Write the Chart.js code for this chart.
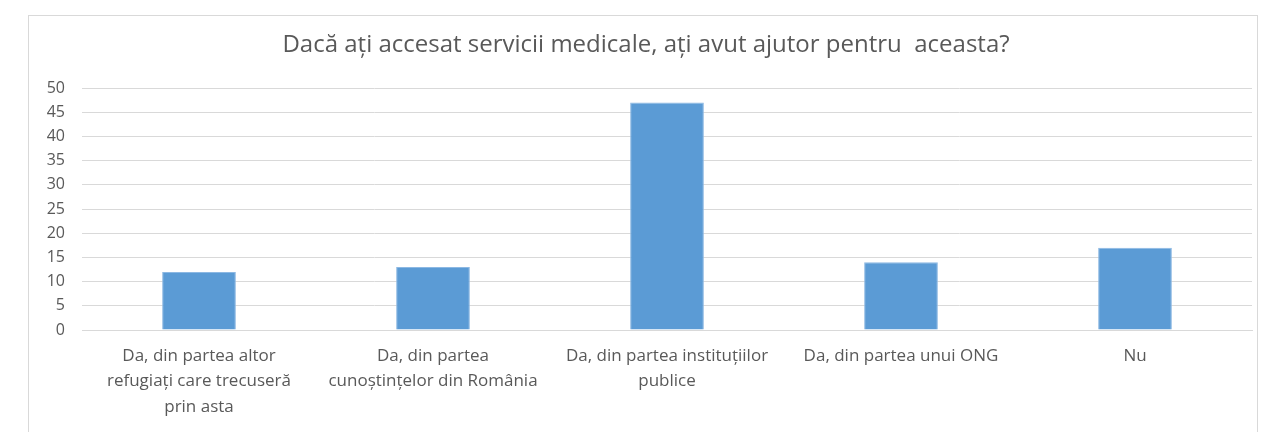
<!DOCTYPE html>
<html>
<head>
<meta charset="utf-8">
<script src="https://cdn.jsdelivr.net/npm/chart.js@4/dist/chart.umd.min.js"></script>
<style>
  html, body { margin: 0; padding: 0; background: #fff; }
  #wrap { position: relative; width: 1278px; height: 432px; }
  #frame { position: absolute; left: 28px; top: 15px; width: 1230px; height: 430px; border: 1px solid #d9d9d9; box-sizing: border-box; }
  canvas { position: absolute; left: 0; top: 0; }
</style>
</head>
<body>
<div id="wrap">
  <div id="frame"></div>
  <canvas id="myChart" width="1278" height="432"></canvas>
</div>
<script>
const chartTitle = 'Dacă ați accesat servicii medicale, ați avut ajutor pentru  aceasta?';
const categories = [
    ['Da, din partea altor', 'refugiați care trecuseră', 'prin asta'],
    ['Da, din partea', 'cunoștințelor din România'],
    ['Da, din partea instituțiilor', 'publice'],
    ['Da, din partea unui ONG'],
    ['Nu']
];
const values = [12, 13, 47, 14, 17];
const yTicks = [0, 5, 10, 15, 20, 25, 30, 35, 40, 45, 50];

const textColor = '#595959';
const gridColor = '#d9d9d9';
const fontFamily = "'Open Sans', 'Liberation Sans', sans-serif";

function createChart() {
    const ctx = document.getElementById('myChart').getContext('2d');
    new Chart(ctx, {
        type: 'bar',
        data: {
            labels: categories,
            datasets: [{
                data: values,
                backgroundColor: '#5b9bd5',
                borderColor: '#8cb8e3',
                borderWidth: 1,
                categoryPercentage: 1,
                barPercentage: 0.315
            }]
        },
        options: {
            responsive: false,
            animation: false,
            layout: { padding: { left: 40, right: 26, top: 0, bottom: 0 } },
            plugins: {
                legend: { display: false },
                tooltip: { enabled: false },
                title: {
                    display: true,
                    text: chartTitle,
                    color: textColor,
                    font: { family: fontFamily, size: 24, weight: 'normal', lineHeight: 1.2 },
                    padding: { top: 30.6, bottom: 28.6 }
                }
            },
            scales: {
                x: {
                    grid: { display: false, drawTicks: false },
                    border: { display: true, color: gridColor, width: 1 },
                    ticks: {
                        color: textColor,
                        padding: 13,
                        maxRotation: 0,
                        autoSkip: false,
                        font: { family: fontFamily, size: 17, lineHeight: 1.5 }
                    },
                    afterFit: (scale) => { scale.height = 102; }
                },
                y: {
                    min: 0,
                    max: 50,
                    afterBuildTicks: (scale) => { scale.ticks = yTicks.map(v => ({ value: v })); },
                    grid: { color: gridColor, lineWidth: 1, drawTicks: false },
                    border: { display: false },
                    ticks: {
                        color: textColor,
                        padding: 17,
                        font: { family: fontFamily, size: 16 }
                    },
                    afterFit: (scale) => { scale.width = 42; }
                }
            }
        }
    });
}
createChart();
</script>
</body>
</html>
